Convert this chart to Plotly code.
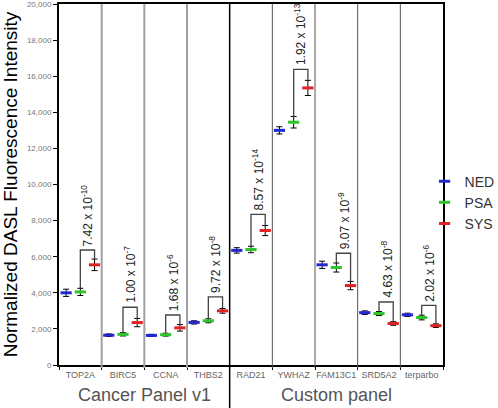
import plotly.graph_objects as go

genes = ["TOP2A", "BIRC5", "CCNA", "THBS2", "RAD21", "YWHAZ", "FAM13C1", "SRD5A2", "terparbo"]
ned = [4000, 1650, 1640, 2360, 6350, 13000, 5550, 2900, 2780]
psa = [4050, 1700, 1680, 2450, 6400, 13450, 5400, 2850, 2630]
sys_ = [5550, 2350, 2060, 3000, 7450, 15350, 4400, 2300, 2180]
ned_err = [200, 70, 60, 90, 150, 200, 200, 100, 90]
psa_err = [200, 90, 80, 110, 180, 320, 250, 110, 130]
sys_err = [320, 230, 180, 130, 280, 420, 230, 100, 100]
bracket_top = [6370, 3200, 2770, 3770, 8350, 16380, 6190, 3490, 3300]
p_labels = ["7.42 x 10<sup>-10</sup>", "1.00 x 10<sup>-7</sup>", "1.68 x 10<sup>-6</sup>",
            "9.72 x 10<sup>-8</sup>", "8.57 x 10<sup>-14</sup>", "1.92 x 10<sup>-13</sup>",
            "9.07 x 10<sup>-9</sup>", "4.63 x 10<sup>-8</sup>", "2.02 x 10<sup>-6</sup>"]
panels = ["Cancer Panel v1", "Custom panel"]
panel_sizes = [4, 5]
y_ticks = list(range(0, 20001, 2000))

FONT = "Arial, Liberation Sans, sans-serif"
series = [("NED", ned, ned_err, "#2028d0"), ("PSA", psa, psa_err, "#2ec42e"), ("SYS", sys_, sys_err, "#e02222")]

fig = go.Figure()
for name, vals, errs, col in series:
    fig.add_trace(go.Scatter(
        x=genes, y=vals, name=name, mode="markers", offsetgroup=name,
        marker=dict(symbol="line-ew", size=8, line=dict(width=3, color=col), color=col),
        error_y=dict(type="data", array=errs, color="black", thickness=1, width=3),
    ))

off = 1.0 / 3.0
shapes = []
n = len(genes)
# dividers
for k in range(n - 1):
    b = k + 0.5
    if b == panel_sizes[0] - 0.5:
        shapes.append(dict(type="line", xref="x", yref="paper", x0=b, x1=b, y0=-0.12, y1=1,
                           line=dict(color="black", width=1.5)))
    elif b < panel_sizes[0]:
        shapes.append(dict(type="line", xref="x", yref="paper", x0=b, x1=b, y0=-0.008, y1=1,
                           line=dict(color="#a0a0a0", width=2)))
    else:
        shapes.append(dict(type="line", xref="x", yref="paper", x0=b, x1=b, y0=-0.008, y1=1,
                           line=dict(color="#555555", width=1)))
# brackets
for i in range(n):
    g_top = psa[i] + psa_err[i]
    r_top = sys_[i] + sys_err[i]
    path = f"M {i},{g_top} L {i},{bracket_top[i]} L {i+off},{bracket_top[i]} L {i+off},{r_top}"
    shapes.append(dict(type="path", xref="x", yref="y", path=path, line=dict(color="#444444", width=1.3)))

annotations = []
for i in range(n):
    annotations.append(dict(x=i + off / 2, y=bracket_top[i], xref="x", yref="y", text=p_labels[i],
                            textangle=-90, showarrow=False, xanchor="center", yanchor="bottom", yshift=2,
                            font=dict(size=12, color="#222222", family=FONT)))
start = 0
for pname, size in zip(panels, panel_sizes):
    annotations.append(dict(x=start + (size - 1) / 2, y=-0.083, xref="x", yref="paper", text=pname,
                            showarrow=False, xanchor="center", yanchor="middle",
                            font=dict(size=18, color="#555555", family=FONT)))
    start += size

fig.update_layout(
    width=498, height=408,
    margin=dict(l=59, r=55, t=4, b=43, autoexpand=False),
    paper_bgcolor="white", plot_bgcolor="white",
    font=dict(family=FONT),
    scattermode="group", scattergap=0,
    shapes=shapes, annotations=annotations,
    legend=dict(x=0.952, y=0.45, xanchor="left", yanchor="middle", bgcolor="rgba(0,0,0,0)",
                font=dict(size=14, color="#333333", family=FONT), itemwidth=30, tracegroupgap=0),
    xaxis=dict(type="category", range=[-0.5, n - 0.5], tickson="boundaries", ticks="outside", ticklen=3,
               tickcolor="black", showline=True, linecolor="black", linewidth=2, mirror=True,
               showgrid=False, tickangle=0, automargin=False,
               tickfont=dict(size=9, color="#666666", family=FONT)),
    yaxis=dict(range=[0, 20000], tickvals=y_ticks, tickformat=",d", ticks="outside", ticklen=4,
               tickcolor="black", showline=True, linecolor="black", linewidth=2, mirror=True,
               showgrid=False, zeroline=False, automargin=False, ticklabeloverflow="allow",
               tickfont=dict(size=8, color="#777777", family=FONT),
               title=dict(text="Normalized DASL Fluorescence Intensity", standoff=8,
                          font=dict(size=19, color="black", family=FONT))),
)
fig.write_html("out.html", config={"displayModeBar": False},
               post_script="document.body.style.margin='0';")
